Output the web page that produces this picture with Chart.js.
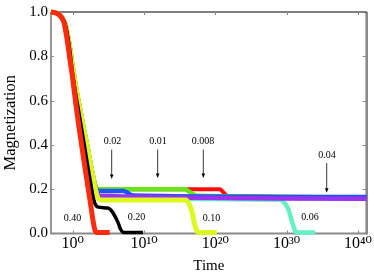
<!DOCTYPE html>
<html>
<head>
<meta charset="utf-8">
<script src="https://cdn.jsdelivr.net/npm/chart.js@4.4.0/dist/chart.umd.min.js"></script>
<style>
  html, body { margin: 0; padding: 0; background: #fff; }
  #wrap { width: 374px; height: 278px; }
</style>
</head>
<body>
<div id="wrap"><canvas id="mag-chart" width="374" height="278"></canvas></div>
<script>
// values: log10(time) and magnetization for each curve
var logT_040 = [-3.04, -2.5, -2, -1.5, -1.2, -0.8, -0.45, 0, 0.5, 1, 1.5, 2, 2.5, 2.9, 3.15, 3.4, 5.2];
var mag_040  = [1.0, 0.997, 0.99, 0.972, 0.95, 0.88, 0.8, 0.7, 0.57, 0.455, 0.345, 0.24, 0.135, 0.05, 0.012, 0.005, 0.005];

var logT_020 = [-3.04, -2.5, -2, -1.5, -1, -0.5, 0, 0.5, 0.85, 1.5, 2, 2.5, 2.9, 3.2, 3.6, 4.9, 5.4, 5.9, 6.35, 6.7, 7.05, 7.5, 9.85];
var mag_020  = [1.0, 0.997, 0.99, 0.975, 0.94, 0.85, 0.72, 0.615, 0.55, 0.425, 0.326, 0.23, 0.16, 0.13, 0.119, 0.115, 0.105, 0.08, 0.05, 0.02, 0.006, 0.005, 0.005];

var logT_010 = [-3.04, -2.5, -2, -1.5, -1, -0.5, 0, 0.5, 1.09, 1.5, 2, 2.43, 2.8, 3.1, 3.4, 3.7, 4.2, 15.9, 16.3, 16.7, 16.95, 17.15, 17.4, 17.65, 20.2];
var mag_010  = [1.0, 0.997, 0.99, 0.975, 0.94, 0.86, 0.75, 0.65, 0.55, 0.48, 0.4, 0.326, 0.265, 0.215, 0.172, 0.155, 0.151, 0.151, 0.135, 0.103, 0.065, 0.036, 0.012, 0.005, 0.005];

var logT_006 = [-3.04, -2.5, -2, -1.5, -1, -0.5, 0, 0.5, 1.09, 1.5, 2, 2.43, 2.8, 3.1, 3.4, 3.7, 4.2, 29.1, 29.7, 30.24, 30.72, 31.18, 31.5, 33.98];
var mag_006  = [1.0, 0.997, 0.99, 0.975, 0.94, 0.86, 0.75, 0.65, 0.55, 0.48, 0.4, 0.326, 0.265, 0.218, 0.178, 0.16, 0.157, 0.152, 0.138, 0.11, 0.058, 0.013, 0.005, 0.005];

var logT_004 = [-3.04, -2.5, -2, -1.5, -1, -0.5, 0, 0.5, 1.09, 1.5, 2, 2.43, 2.8, 3.1, 3.4, 3.8, 41.23];
var mag_004  = [1.0, 0.997, 0.99, 0.975, 0.94, 0.86, 0.75, 0.65, 0.55, 0.48, 0.4, 0.326, 0.265, 0.22, 0.185, 0.17, 0.157];

var logT_002 = [-3.04, -2.5, -2, -1.5, -1, -0.5, 0, 0.5, 1.09, 1.5, 2, 2.43, 2.8, 3.1, 3.35, 3.6, 7.1, 7.6, 8.0, 8.5, 41.23];
var mag_002  = [1.0, 0.997, 0.99, 0.975, 0.94, 0.86, 0.75, 0.65, 0.55, 0.48, 0.4, 0.326, 0.265, 0.222, 0.2, 0.193, 0.192, 0.186, 0.177, 0.172, 0.165];

var logT_001 = [-3.04, -2.5, -2, -1.5, -1, -0.5, 0, 0.5, 1.09, 1.5, 2, 2.43, 2.8, 3.1, 3.35, 3.6, 15.75, 16.3, 16.9, 17.45, 41.23];
var mag_001  = [1.0, 0.997, 0.99, 0.975, 0.94, 0.86, 0.75, 0.65, 0.55, 0.48, 0.4, 0.326, 0.265, 0.222, 0.205, 0.2, 0.2, 0.19, 0.177, 0.17, 0.164];

var logT_0008 = [-3.04, -2.5, -2, -1.5, -1, -0.5, 0, 0.5, 1.09, 1.5, 2, 2.43, 2.8, 3.1, 3.35, 3.6, 20.66, 21.0, 21.35, 21.65, 41.23];
var mag_0008  = [1.0, 0.997, 0.99, 0.975, 0.94, 0.86, 0.75, 0.65, 0.55, 0.48, 0.4, 0.326, 0.265, 0.222, 0.205, 0.2, 0.2, 0.19, 0.178, 0.17, 0.164];

// axis
var xMinExp = -3.04;
var xMaxExp = 41.23;
var xTickExps = [0, 10, 20, 30, 40];
var yTicks = [0, 0.2, 0.4, 0.6, 0.8, 1.0];

// labels on the plot: [text, log10(time), magnetization]
var curveLabels = [
  ['0.40', -0.03, 0.067],
  ['0.20', 8.95, 0.071],
  ['0.10', 19.47, 0.067],
  ['0.06', 33.28, 0.071],
  ['0.02', 5.58, 0.415],
  ['0.01', 11.96, 0.415],
  ['0.008', 18.27, 0.415],
  ['0.04', 35.67, 0.353]
];
// arrows: [log10(time), from magnetization, to magnetization]
var arrows = [
  [5.47, 0.379, 0.246],
  [11.92, 0.379, 0.251],
  [18.32, 0.379, 0.251],
  [35.62, 0.318, 0.184]
];

var points = function(logT, mag) {
  return logT.map(function(e, i) { return { x: Math.pow(10, e), y: mag[i] }; });
};

var sup = function(n) {
  var d = '⁰¹²³⁴⁵⁶⁷⁸⁹';
  return String(n).split('').map(function(c) { return d[+c]; }).join('');
};

var serif = '"Liberation Serif", "DejaVu Serif", serif';

var framePlugin = {
  id: 'framePlugin',
  beforeDatasetsDraw: function(chart) {
    var ctx = chart.ctx, a = chart.chartArea;
    var xs = chart.scales.x, ys = chart.scales.y;
    ctx.save();
    ctx.strokeStyle = '#8a8a8a';
    ctx.lineWidth = 1.8;
    ctx.beginPath();
    ctx.moveTo(a.left, a.top); ctx.lineTo(a.left, a.bottom); ctx.lineTo(a.right, a.bottom);
    ctx.stroke();
    ctx.lineWidth = 2.6;
    ctx.beginPath();
    ctx.moveTo(a.right, a.top); ctx.lineTo(a.right, a.bottom + 1);
    ctx.stroke();
    ctx.strokeStyle = '#000';
    ctx.lineWidth = 1.2;
    ctx.beginPath();
    ctx.moveTo(a.left, a.top); ctx.lineTo(a.right, a.top);
    ctx.stroke();
    // inward ticks
    ctx.strokeStyle = '#8a8a8a';
    ctx.lineWidth = 1;
    ctx.beginPath();
    xTickExps.forEach(function(e) {
      var px = Math.round(xs.getPixelForValue(Math.pow(10, e))) + 0.5;
      ctx.moveTo(px, a.bottom); ctx.lineTo(px, a.bottom - 3);
      ctx.moveTo(px, a.top); ctx.lineTo(px, a.top + 3);
    });
    yTicks.slice(1, -1).forEach(function(v) {
      var py = Math.round(ys.getPixelForValue(v)) + 0.5;
      ctx.moveTo(a.right, py); ctx.lineTo(a.right - 4, py);
      ctx.moveTo(a.left, py); ctx.lineTo(a.left + 3, py);
    });
    ctx.stroke();
    ctx.restore();
  },
  afterDatasetsDraw: function(chart) {
    var ctx = chart.ctx;
    var xs = chart.scales.x, ys = chart.scales.y;
    ctx.save();
    ctx.fillStyle = '#000';
    ctx.strokeStyle = '#222';
    ctx.font = '10px ' + serif;
    ctx.textAlign = 'center';
    ctx.textBaseline = 'middle';
    curveLabels.forEach(function(l) {
      ctx.fillText(l[0], xs.getPixelForValue(Math.pow(10, l[1])), ys.getPixelForValue(l[2]));
    });
    ctx.lineWidth = 0.9;
    arrows.forEach(function(ar) {
      var px = xs.getPixelForValue(Math.pow(10, ar[0]));
      var y1 = ys.getPixelForValue(ar[1]), y2 = ys.getPixelForValue(ar[2]);
      ctx.beginPath();
      ctx.moveTo(px, y1); ctx.lineTo(px, y2 - 3);
      ctx.stroke();
      ctx.beginPath();
      ctx.moveTo(px - 1.8, y2 - 4.5); ctx.lineTo(px + 1.8, y2 - 4.5); ctx.lineTo(px, y2);
      ctx.closePath();
      ctx.fill();
    });
    ctx.restore();
  }
};

var series = [
  { data: points(logT_040, mag_040), color: '#ff2b0f', width: 5 },
  { data: points(logT_020, mag_020), color: '#000000', width: 3.5 },
  { data: points(logT_010, mag_010), color: '#dcf81e', width: 5 },
  { data: points(logT_004, mag_004), color: '#9933f0', width: 4.5 },
  { data: points(logT_006, mag_006), color: '#66f0c4', width: 4.5 },
  { data: points(logT_002, mag_002), color: '#1f52ff', width: 4.5 },
  { data: points(logT_001, mag_001), color: '#66e619', width: 4.5 },
  { data: points(logT_0008, mag_0008), color: '#ff0d0d', width: 4 }
];

var ctx = document.getElementById('mag-chart').getContext('2d');
var chart = new Chart(ctx, {
  type: 'scatter',
  data: {
    datasets: series.map(function(s) {
      return {
        data: s.data,
        showLine: true,
        borderColor: s.color,
        backgroundColor: s.color,
        borderWidth: s.width,
        pointRadius: 0,
        cubicInterpolationMode: 'monotone',
        borderJoinStyle: 'round',
        clip: 4
      };
    })
  },
  options: {
    responsive: false,
    animation: false,
    events: [],
    layout: { padding: { top: 9.5, right: 7.3, left: 0, bottom: 0 } },
    plugins: { legend: { display: false }, tooltip: { enabled: false } },
    scales: {
      x: {
        type: 'logarithmic',
        min: Math.pow(10, xMinExp),
        max: Math.pow(10, xMaxExp),
        grid: { display: false, drawTicks: false },
        border: { display: false },
        afterBuildTicks: function(scale) {
          scale.ticks = xTickExps.map(function(e) { return { value: Math.pow(10, e) }; });
        },
        afterFit: function(scale) { scale.height = 44.5; },
        ticks: {
          autoSkip: false,
          maxRotation: 0,
          padding: 1,
          color: '#000',
          font: { family: serif, size: 16 },
          callback: function(v) { return '10' + sup(Math.round(Math.log10(v))); }
        },
        title: {
          display: true,
          text: 'Time',
          color: '#000',
          font: { family: serif, size: 15 },
          padding: { top: 0, bottom: 3 }
        }
      },
      y: {
        min: 0,
        max: 1,
        grid: { display: false, drawTicks: false },
        border: { display: false },
        afterBuildTicks: function(scale) {
          scale.ticks = yTicks.map(function(v) { return { value: v }; });
        },
        afterFit: function(scale) { scale.width = 51; },
        ticks: {
          padding: 3,
          color: '#000',
          font: { family: serif, size: 15 },
          callback: function(v) { return v.toFixed(1); }
        },
        title: {
          display: true,
          text: 'Magnetization',
          color: '#000',
          font: { family: serif, size: 16.5 },
          padding: { top: 0.5, bottom: 0 }
        }
      }
    }
  },
  plugins: [framePlugin]
});
</script>
</body>
</html>
